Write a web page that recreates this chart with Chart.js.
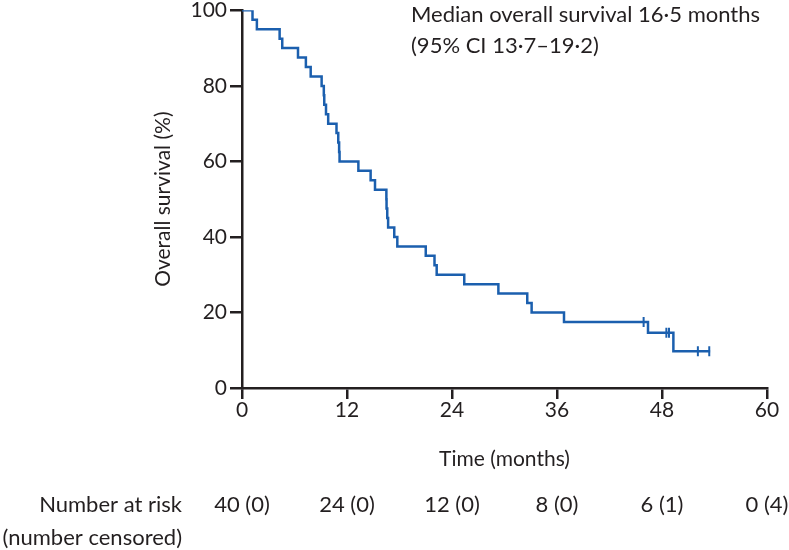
<!DOCTYPE html>
<html>
<head>
<meta charset="utf-8">
<script src="https://cdn.jsdelivr.net/npm/chart.js@4/dist/chart.umd.min.js"></script>
<style>
    html, body { margin: 0; padding: 0; background: #fff; }
    #km { display: block; }
</style>
</head>
<body>
<canvas id="km" width="789" height="550"></canvas>
<script>
// Kaplan-Meier steps (months, % alive)
const kmTimes = [0, 1.2, 1.7, 4.3, 4.6, 6.4, 7.3, 7.85, 9.1, 9.35, 9.4, 9.6, 9.85, 10.8, 11.0, 11.1, 11.15,
    13.3, 14.7, 15.2, 16.5, 16.52, 16.6, 16.7, 17.4, 17.75, 21.0, 22.0, 22.25, 25.4, 29.3, 32.6, 33.1,
    36.8, 46.4, 49.3, 53.5];
const kmSurvival = [100, 97.5, 95, 92.5, 90, 87.5, 85, 82.5, 80, 77.5, 75, 72.5, 70, 67.5, 65, 62.5, 60,
    57.5, 55, 52.5, 50, 47.5, 45, 42.5, 40, 37.5, 35, 32.5, 30, 27.5, 25, 22.5, 20,
    17.5, 14.6, 9.7, 9.7];

// censored patients (tick marks)
const censorTimes = [45.9, 48.5, 48.8, 52.1, 53.4];
const censorSurvival = [17.5, 14.6, 14.6, 9.7, 9.7];

// number at risk table
const riskTimes = [0, 12, 24, 36, 48, 60];
const atRisk = [40, 24, 12, 8, 6, 0];
const numCensored = [0, 0, 0, 0, 1, 4];

const xTicks = [0, 12, 24, 36, 48, 60];
const yTicks = [0, 20, 40, 60, 80, 100];

const ink = '#231f20';
const blue = '#1b5fae';
const fontFamily = 'Lato, "Open Sans", sans-serif';

/**
 * Draws the annotation, axis titles and the risk table
 */
const kmTextPlugin = {
    id: 'kmText',
    afterDraw: function(chart) {
        const ctx = chart.ctx;
        const xScale = chart.scales.x;
        const yScale = chart.scales.y;

        ctx.save();
        ctx.fillStyle = ink;
        ctx.font = '22px ' + fontFamily;
        ctx.textBaseline = 'middle';

        // median annotation
        ctx.textAlign = 'left';
        ctx.fillText('Median overall survival 16·5 months', 411, 15);
        ctx.fillText('(95% CI 13·7–19·2)', 411, 46);

        // axis titles
        ctx.font = '21px ' + fontFamily;
        ctx.textAlign = 'center';
        ctx.fillText('Time (months)', (xScale.left + xScale.right) / 2, 459);

        ctx.save();
        ctx.translate(163, (yScale.top + yScale.bottom) / 2);
        ctx.rotate(-Math.PI / 2);
        ctx.fillText('Overall survival (%)', 0, 0);
        ctx.restore();

        // number at risk
        ctx.font = '22px ' + fontFamily;
        ctx.textAlign = 'right';
        ctx.fillText('Number at risk', 182, 505);
        ctx.fillText('(number censored)', 182, 538);

        ctx.textAlign = 'center';
        riskTimes.forEach(function(t, i) {
            ctx.fillText(atRisk[i] + ' (' + numCensored[i] + ')', xScale.getPixelForValue(t), 505);
        });
        ctx.restore();
    }
};

document.addEventListener('DOMContentLoaded', function() {
    const curve = kmTimes.map(function(t, i) { return { x: t, y: kmSurvival[i] }; });
    const censors = censorTimes.map(function(t, i) { return { x: t, y: censorSurvival[i] }; });

    const ctx = document.getElementById('km').getContext('2d');
    new Chart(ctx, {
        type: 'line',
        data: {
            datasets: [{
                label: 'Overall survival',
                data: curve,
                stepped: 'before',
                borderColor: blue,
                borderWidth: 2.5,
                pointRadius: 0,
                fill: false
            }, {
                label: 'Censored',
                data: censors,
                showLine: false,
                pointStyle: 'line',
                rotation: 90,
                pointRadius: 5,
                borderColor: blue,
                borderWidth: 2,
                backgroundColor: blue
            }]
        },
        options: {
            responsive: false,
            animation: false,
            layout: { padding: { top: 8, right: 22, bottom: 0, left: 0 } },
            plugins: {
                legend: { display: false },
                tooltip: { enabled: false }
            },
            scales: {
                x: {
                    type: 'linear',
                    min: 0,
                    max: 60,
                    afterFit: function(scale) { scale.height = 162; },
                    afterBuildTicks: function(scale) {
                        scale.ticks = xTicks.map(function(v) { return { value: v }; });
                    },
                    grid: { drawOnChartArea: false, drawTicks: true, tickLength: 11, color: ink, lineWidth: 2.5 },
                    border: { color: ink, width: 2.5 },
                    ticks: { color: ink, padding: 1, font: { family: fontFamily, size: 21, lineHeight: 1 } }
                },
                y: {
                    type: 'linear',
                    min: 0,
                    max: 100,
                    afterFit: function(scale) { scale.width = 242; },
                    afterBuildTicks: function(scale) {
                        scale.ticks = yTicks.map(function(v) { return { value: v }; });
                    },
                    grid: { drawOnChartArea: false, drawTicks: true, tickLength: 12, color: ink, lineWidth: 2.5 },
                    border: { color: ink, width: 2.5 },
                    ticks: { color: ink, padding: 3, font: { family: fontFamily, size: 21, lineHeight: 0.7 } }
                }
            }
        },
        plugins: [kmTextPlugin]
    });
});
</script>
</body>
</html>
